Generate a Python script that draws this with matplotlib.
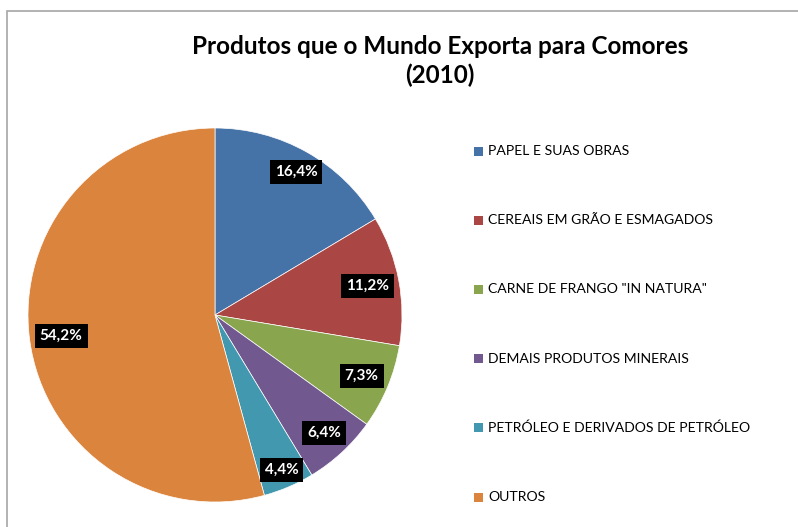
import matplotlib
matplotlib.use("Agg")
import matplotlib.pyplot as plt
from matplotlib.patches import Rectangle

# dados do gráfico
categorias = [
    "PAPEL E SUAS OBRAS",
    "CEREAIS EM GRÃO E ESMAGADOS",
    'CARNE DE FRANGO "IN NATURA"',
    "DEMAIS PRODUTOS MINERAIS",
    "PETRÓLEO E DERIVADOS DE PETRÓLEO",
    "OUTROS",
]
percentuais = [16.4, 11.2, 7.3, 6.4, 4.4, 54.2]
cores = ["#4572A7", "#AA4643", "#89A54E", "#71588F", "#4198AF", "#DB843D"]

plt.rcParams["font.family"] = ["Lato", "DejaVu Sans"]

W, H = 798, 527
fig = plt.figure(figsize=(W / 100, H / 100), dpi=100)

# moldura do gráfico
fig.add_artist(Rectangle((7 / W, -0.01), 1.0, 1 - 11 / H + 0.01, transform=fig.transFigure,
                         fill=False, edgecolor="#A6A6A6", linewidth=1.2))

# eixo da pizza
cx, cy, r = 215, H - 315, 187
ax = fig.add_axes([(cx - r) / W, (cy - r) / H, 2 * r / W, 2 * r / H])
wedges, textos, pcts = ax.pie(
    percentuais, colors=cores, startangle=90, counterclock=False,
    autopct=lambda p: "", pctdistance=0.84,
    wedgeprops=dict(linewidth=0.5, edgecolor="white"),
)
# distância radial de cada rótulo (ajuste "melhor encaixe")
dist = [0.88, 0.83, 0.85, 0.86, 0.90, 0.83]
for t, v, d in zip(pcts, percentuais, dist):
    t.set_text(f"{v:.1f}%".replace(".", ","))
    t.set_color("white")
    t.set_fontweight("bold")
    t.set_fontsize(11)
    t.set_bbox(dict(facecolor="black", edgecolor="none", pad=3.5))
    x, y = t.get_position()
    t.set_position((x * d / 0.84, y * d / 0.84))
ax.set_xlim(-1, 1)
ax.set_ylim(-1, 1)
ax.set_aspect("equal")
ax.axis("off")

# título
fig.text(440 / W, 1 - 46 / H, "Produtos que o Mundo Exporta para Comores",
         ha="center", va="center", fontsize=17.5, fontweight="bold")
fig.text(440 / W, 1 - 75 / H, "(2010)",
         ha="center", va="center", fontsize=17.5, fontweight="bold")

# legenda
y0, passo = 151, 69.2
for i, (cat, cor) in enumerate(zip(categorias, cores)):
    y = y0 + i * passo
    fig.add_artist(Rectangle((474 / W, 1 - (y + 4.5) / H), 9 / W, 9 / H,
                             transform=fig.transFigure, facecolor=cor, edgecolor="none"))
    fig.text(488 / W, 1 - y / H, cat, ha="left", va="center", fontsize=10.1)

fig.savefig("out.png", dpi=100)
